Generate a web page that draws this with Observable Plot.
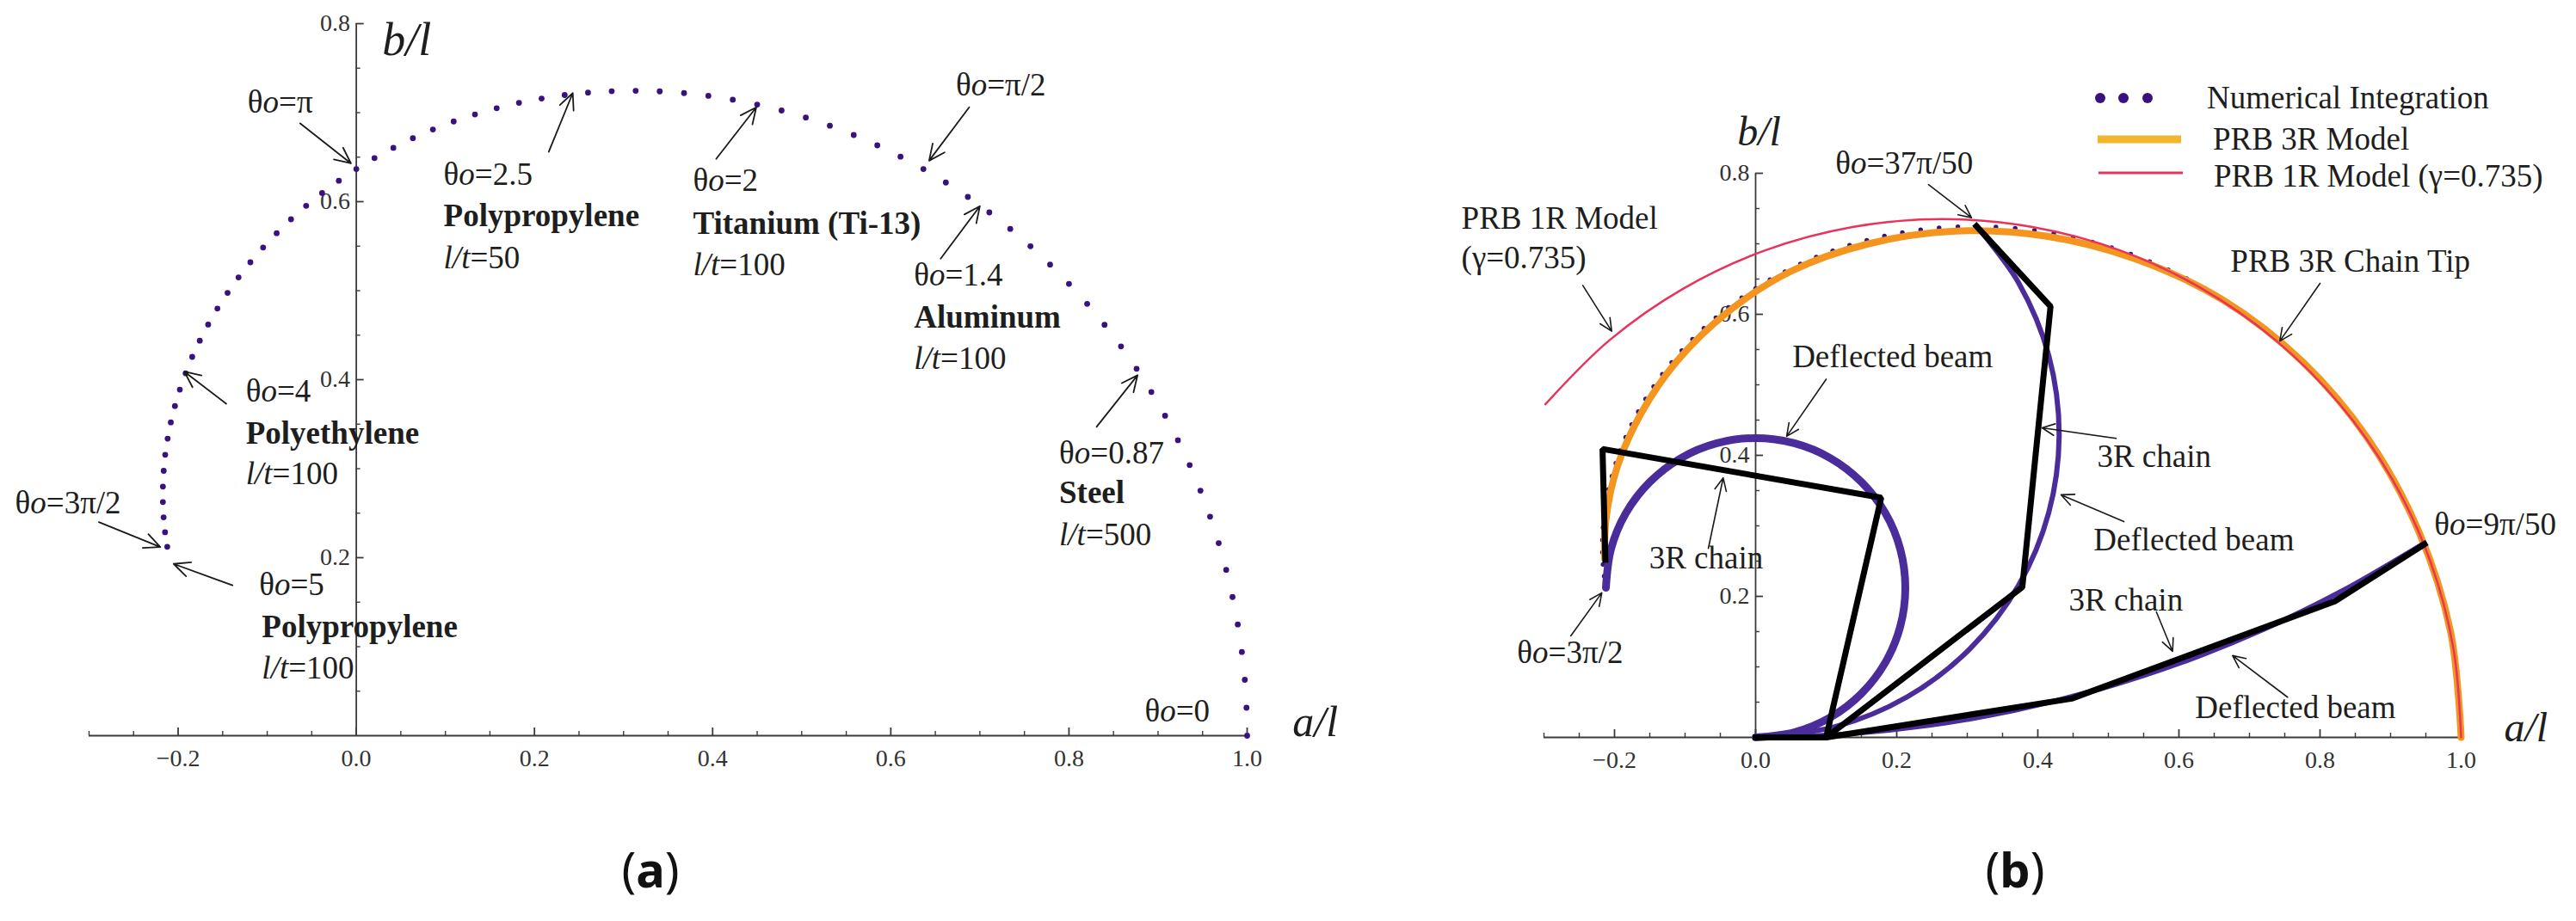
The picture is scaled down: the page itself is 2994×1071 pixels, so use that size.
<!DOCTYPE html>
<html>
<head>
<meta charset="utf-8">
<script src="https://cdn.jsdelivr.net/npm/d3@7"></script>
<script src="https://cdn.jsdelivr.net/npm/@observablehq/plot@0.6"></script>
<style>
  html, body { margin: 0; padding: 0; background: #fff; }
  body { width: 2994px; height: 1071px; position: relative; overflow: hidden; font-family: "Liberation Serif", serif; }
  .panel { position: absolute; top: 0; }
  .plabel { position: absolute; top: 982px; width: 200px; text-align: center; font-family: "Noto Sans", sans-serif; font-size: 56px; line-height: 1; color: #111; }
  .plabel b { font-weight: 700; }
  #legend { position: absolute; left: 2420px; top: 90px; }
</style>
</head>
<body>
<div id="panelA" class="panel" style="left:0px;width:1600px"></div>
<div id="panelB" class="panel" style="left:1600px;width:1394px"></div>
<div class="plabel" style="left:656px">(<b>a</b>)</div>
<div class="plabel" style="left:2242px">(<b>b</b>)</div>
<svg id="legend" width="560" height="140"></svg>
<script>
// ---------- data ----------
// Numerical integration: tip positions (a/l, b/l), dots
const integrationX = [1.0000,0.9993,0.9974,0.9941,0.9895,0.9836,0.9765,0.9681,0.9584,0.9476,0.9355,0.9223,0.9079,0.8925,0.8759,0.8584,0.8399,0.8204,0.8000,0.7788,0.7568,0.7341,0.7106,0.6865,0.6618,0.6366,0.6109,0.5848,0.5584,0.5316,0.5046,0.4774,0.4500,0.4226,0.3952,0.3679,0.3406,0.3136,0.2867,0.2601,0.2339,0.2080,0.1826,0.1576,0.1332,0.1093,0.0860,0.0635,0.0416,0.0204,0.0000,-0.0196,-0.0384,-0.0563,-0.0733,-0.0894,-0.1046,-0.1189,-0.1322,-0.1445,-0.1559,-0.1663,-0.1757,-0.1842,-0.1916,-0.1981,-0.2036,-0.2082,-0.2118,-0.2145,-0.2162,-0.2171,-0.2171,-0.2163,-0.2147,-0.2122];
const integrationY = [0.0000,0.0314,0.0628,0.0940,0.1250,0.1558,0.1863,0.2164,0.2461,0.2753,0.3040,0.3320,0.3595,0.3862,0.4122,0.4374,0.4617,0.4852,0.5077,0.5293,0.5499,0.5694,0.5879,0.6053,0.6215,0.6366,0.6506,0.6633,0.6749,0.6853,0.6945,0.7024,0.7091,0.7146,0.7189,0.7220,0.7239,0.7246,0.7241,0.7225,0.7198,0.7159,0.7110,0.7050,0.6980,0.6901,0.6811,0.6713,0.6605,0.6490,0.6366,0.6235,0.6097,0.5953,0.5802,0.5646,0.5485,0.5319,0.5149,0.4975,0.4799,0.4619,0.4438,0.4256,0.4072,0.3888,0.3704,0.3520,0.3337,0.3156,0.2976,0.2799,0.2625,0.2453,0.2286,0.2122];

// PRB 3R chain tip path (orange)
const prb3rTip = [[1.0,0],[0.985,0.150],[0.940,0.292],[0.869,0.422],[0.775,0.533],[0.663,0.620],[0.537,0.679],[0.411,0.711],[0.283,0.718],[0.160,0.700],[0.050,0.661],[-0.040,0.603],[-0.112,0.533],[-0.162,0.460],[-0.196,0.384],[-0.212,0.310],[-0.214,0.254]];
// PRB 1R model (red)
const prb1r = [[-0.298,0.4725],[-0.2075,0.563],[-0.1025,0.6365],[0.0136,0.6907],[0.1374,0.7238],[0.265,0.735],[0.3926,0.7238],[0.5164,0.6907],[0.6325,0.6365],[0.7375,0.563],[0.828,0.4725],[0.9015,0.3675],[0.9557,0.2514],[0.9888,0.1276],[1.0,0]];
// Deflected beams (purple)
const beam1 = [[0,0],[0.0549,0.0072],[0.1061,0.0284],[0.15,0.0622],[0.1838,0.1061],[0.205,0.1573],[0.2122,0.2122],[0.205,0.2671],[0.1838,0.3183],[0.15,0.3622],[0.1061,0.396],[0.0549,0.4172],[0,0.4244],[-0.0549,0.4172],[-0.1061,0.396],[-0.15,0.3622],[-0.1838,0.3183],[-0.205,0.2671],[-0.2122,0.2122]];
const beam2 = [[0,0],[0.1113,0.0147],[0.2151,0.0576],[0.3042,0.126],[0.3725,0.2151],[0.4155,0.3188],[0.4302,0.4302],[0.4155,0.5415],[0.3725,0.6452],[0.3136,0.7246]];
const beam3 = [[0,0],[0.1234,0.0043],[0.2461,0.0172],[0.3677,0.0386],[0.4874,0.0685],[0.6048,0.1067],[0.7193,0.1529],[0.8302,0.207],[0.9476,0.2753]];
// 3R chains (black)
const chain1 = [[0,0],[0.1,0],[0.178,0.340],[-0.217,0.409],[-0.213,0.252]];
const chain2 = [[0,0],[0.1,0],[0.378,0.213],[0.418,0.611],[0.313,0.725]];
const chain3 = [[0,0],[0.1,0],[0.448,0.055],[0.821,0.193],[0.948,0.274]];

// Axes ticks
const xMajor = [-0.2, 0, 0.2, 0.4, 0.6, 0.8, 1.0];
const xLabels = ["\u22120.2", "0.0", "0.2", "0.4", "0.6", "0.8", "1.0"];
const xMinor = [-0.3,-0.25,-0.15,-0.1,-0.05,0.05,0.1,0.15,0.25,0.3,0.35,0.45,0.5,0.55,0.65,0.7,0.75,0.85,0.9,0.95];
const yMajor = [0.2, 0.4, 0.6, 0.8];
const yLabels = ["0.2", "0.4", "0.6", "0.8"];
const yMinor = [0.05,0.1,0.15,0.25,0.3,0.35,0.45,0.5,0.55,0.65,0.7,0.75];

// Panel (a) annotations
const thetaLabelsA = [
  {x:-0.122, y:0.700, t:"θo=π"}, {x:0.098, y:0.619, t:"θo=2.5"}, {x:0.378, y:0.612, t:"θo=2"},
  {x:0.673, y:0.719, t:"θo=π/2"}, {x:0.626, y:0.506, t:"θo=1.4"}, {x:0.789, y:0.306, t:"θo=0.87"},
  {x:0.885, y:0.016, t:"θo=0"}, {x:-0.124, y:0.375, t:"θo=4"}, {x:-0.383, y:0.250, t:"θo=3π/2"},
  {x:-0.109, y:0.158, t:"θo=5"}
];
const materialLabelsA = [
  {x:0.098, y:0.572, t:"Polypropylene"}, {x:0.378, y:0.564, t:"Titanium (Ti-13)"}, {x:0.626, y:0.458, t:"Aluminum"},
  {x:0.789, y:0.261, t:"Steel"}, {x:-0.124, y:0.328, t:"Polyethylene"}, {x:-0.106, y:0.111, t:"Polypropylene"}
];
const ratioLabelsA = [
  {x:0.098, y:0.525, t:"l/t=50"}, {x:0.378, y:0.517, t:"l/t=100"}, {x:0.626, y:0.412, t:"l/t=100"},
  {x:0.789, y:0.214, t:"l/t=500"}, {x:-0.124, y:0.283, t:"l/t=100"}, {x:-0.106, y:0.064, t:"l/t=100"}
];
const arrowsA = [
  {x1:-0.063, y1:0.688, x2:-0.006, y2:0.643}, {x1:0.216, y1:0.656, x2:0.243, y2:0.722},
  {x1:0.404, y1:0.648, x2:0.449, y2:0.706}, {x1:0.688, y1:0.706, x2:0.643, y2:0.646},
  {x1:0.656, y1:0.536, x2:0.700, y2:0.595}, {x1:0.831, y1:0.347, x2:0.877, y2:0.405},
  {x1:-0.146, y1:0.373, x2:-0.193, y2:0.409}, {x1:-0.289, y1:0.240, x2:-0.220, y2:0.212},
  {x1:-0.139, y1:0.169, x2:-0.205, y2:0.193}
];
// Panel (b) annotations
const labelsB = [
  {x:0.113, y:0.800, t:"θo=37π/50"}, {x:-0.417, y:0.721, t:"PRB 1R Model"}, {x:-0.417, y:0.665, t:"(γ=0.735)"},
  {x:0.052, y:0.525, t:"Deflected beam"}, {x:-0.151, y:0.240, t:"3R chain"}, {x:-0.338, y:0.105, t:"θo=3π/2"},
  {x:0.673, y:0.660, t:"PRB 3R Chain Tip"}, {x:0.484, y:0.383, t:"3R chain"}, {x:0.479, y:0.265, t:"Deflected beam"},
  {x:0.962, y:0.287, t:"θo=9π/50"}, {x:0.444, y:0.180, t:"3R chain"}, {x:0.623, y:0.027, t:"Deflected beam"}
];
const arrowsB = [
  {x1:0.245, y1:0.784, x2:0.306, y2:0.737}, {x1:-0.245, y1:0.641, x2:-0.204, y2:0.576},
  {x1:0.100, y1:0.508, x2:0.044, y2:0.427}, {x1:-0.067, y1:0.268, x2:-0.046, y2:0.368},
  {x1:-0.262, y1:0.144, x2:-0.218, y2:0.205}, {x1:0.800, y1:0.644, x2:0.743, y2:0.562},
  {x1:0.511, y1:0.424, x2:0.406, y2:0.439}, {x1:0.522, y1:0.306, x2:0.433, y2:0.344},
  {x1:0.568, y1:0.178, x2:0.591, y2:0.122}, {x1:0.754, y1:0.057, x2:0.676, y2:0.116}
];
const legendLabels = ["Numerical Integration", "PRB 3R Model", "PRB 1R Model (γ=0.735)"];

// ---------- styles ----------
const C = { dots: "#38137f", orange: "#f3951f", orangeLegend: "#f2b52e", red: "#e8345c", beam: "#4a2d9a", chain: "#000", axis: "#3a3a3a", text: "#1e1e1e" };
const FONT = "Liberation Serif";

function axisMarks(ppu) {
  const maj = 9 / ppu, mnr = 5 / ppu;
  const s = { stroke: C.axis, strokeWidth: 1.8 };
  return [
    Plot.ruleY([0], { x1: -0.3, x2: 1.0, ...s }),
    Plot.ruleX([0], { y1: 0, y2: 0.8, ...s }),
    Plot.ruleX(xMajor, { x: d => d, y1: 0, y2: maj, ...s }),
    Plot.ruleX(xMinor, { x: d => d, y1: 0, y2: mnr, ...s, strokeWidth: 1.4 }),
    Plot.ruleY(yMajor, { y: d => d, x1: 0, x2: maj, ...s }),
    Plot.ruleY(yMinor, { y: d => d, x1: 0, x2: mnr, ...s, strokeWidth: 1.4 }),
    Plot.text(xMajor, { x: d => d, y: 0, text: (d, i) => xLabels[i], dy: 27, fontSize: 28, fill: "#333" }),
    Plot.text(yMajor, { x: 0, y: d => d, text: (d, i) => yLabels[i], dx: -7, textAnchor: "end", fontSize: 28, fill: "#333" })
  ];
}
const ann = (data, extra) => Plot.text(data, { x: "x", y: "y", text: "t", textAnchor: "start", lineAnchor: "bottom", fontSize: 37, fill: C.text, ...extra });

// ---------- panel (a) ----------
const plotA = Plot.plot({
  width: 1600, height: 915,
  marginLeft: 103, marginRight: 151, marginTop: 27, marginBottom: 60,
  x: { domain: [-0.3, 1.0], axis: null },
  y: { domain: [0, 0.8], axis: null },
  style: { fontFamily: FONT, background: "transparent", overflow: "visible" },
  marks: [
    ...axisMarks(1035),
    Plot.dot(integrationX, { x: d => d, y: (d, i) => integrationY[i], r: 3.4, fill: C.dots }),
    ann(thetaLabelsA),
    ann(materialLabelsA, { fontWeight: "bold" }),
    ann(ratioLabelsA),
    Plot.arrow(arrowsA, { x1: "x1", y1: "y1", x2: "x2", y2: "y2", stroke: "#1a1a1a", strokeWidth: 1.8, headLength: 17, headAngle: 50 }),
    Plot.text(["b/l"], { x: 0.029, y: 0.765, text: d => d, textAnchor: "start", lineAnchor: "bottom", fontSize: 54, fontStyle: "italic", fill: C.text }),
    Plot.text(["a/l"], { x: 1.051, y: 0, text: d => d, textAnchor: "start", lineAnchor: "bottom", fontSize: 50, fontStyle: "italic", fill: C.text })
  ]
});

// ---------- panel (b) ----------
const lineXY = { x: d => d[0], y: d => d[1] };
const plotB = Plot.plot({
  width: 1394, height: 917,
  marginLeft: 194, marginRight: 134, marginTop: 201, marginBottom: 60,
  x: { domain: [-0.3, 1.0], axis: null },
  y: { domain: [0, 0.8], axis: null },
  style: { fontFamily: FONT, background: "transparent", overflow: "visible" },
  marks: [
    ...axisMarks(820),
    Plot.dot(integrationX, { x: d => d, y: (d, i) => integrationY[i], r: 2.7, fill: C.dots }),
    Plot.line(prb3rTip, { ...lineXY, stroke: C.orange, strokeWidth: 8, curve: "catmull-rom" }),
    Plot.line(prb1r, { ...lineXY, stroke: C.red, strokeWidth: 2.5, curve: "catmull-rom" }),
    Plot.line(beam1, { ...lineXY, stroke: C.beam, strokeWidth: 9, curve: "catmull-rom" }),
    Plot.line(beam2, { ...lineXY, stroke: C.beam, strokeWidth: 6, curve: "catmull-rom" }),
    Plot.line(beam3, { ...lineXY, stroke: C.beam, strokeWidth: 6, curve: "catmull-rom" }),
    Plot.line(chain1, { ...lineXY, stroke: C.chain, strokeWidth: 7, strokeLinejoin: "miter", strokeLinecap: "square" }),
    Plot.line(chain2, { ...lineXY, stroke: C.chain, strokeWidth: 7, strokeLinejoin: "miter", strokeLinecap: "square" }),
    Plot.line(chain3, { ...lineXY, stroke: C.chain, strokeWidth: 7, strokeLinejoin: "miter", strokeLinecap: "square" }),
    ann(labelsB),
    Plot.arrow(arrowsB, { x1: "x1", y1: "y1", x2: "x2", y2: "y2", stroke: "#1a1a1a", strokeWidth: 1.6, headLength: 15, headAngle: 50 }),
    Plot.text(["b/l"], { x: -0.026, y: 0.840, text: d => d, textAnchor: "start", lineAnchor: "bottom", fontSize: 48, fontStyle: "italic", fill: C.text }),
    Plot.text(["a/l"], { x: 1.061, y: -0.006, text: d => d, textAnchor: "start", lineAnchor: "bottom", fontSize: 48, fontStyle: "italic", fill: C.text })
  ]
});

// italic "o" in θo and italic "l/t"
const NS = "http://www.w3.org/2000/svg";
function italicize(svg) {
  svg.querySelectorAll("text").forEach(t => {
    const s = t.textContent;
    if (t.querySelector("tspan")) return;
    if (s.startsWith("θo")) {
      t.textContent = "θ";
      const ts = document.createElementNS(NS, "tspan");
      ts.setAttribute("font-style", "italic");
      ts.textContent = "o";
      t.appendChild(ts);
      t.appendChild(document.createTextNode(s.slice(2)));
    } else if (s.startsWith("l/t")) {
      t.textContent = "";
      const ts = document.createElementNS(NS, "tspan");
      ts.setAttribute("font-style", "italic");
      ts.textContent = "l/t";
      t.appendChild(ts);
      t.appendChild(document.createTextNode(s.slice(3)));
    }
  });
}
italicize(plotA);
italicize(plotB);
document.getElementById("panelA").appendChild(plotA);
document.getElementById("panelB").appendChild(plotB);

// ---------- legend ----------
const lg = d3.select("#legend").style("font-family", FONT);
lg.selectAll("circle.d").data([21, 48, 76]).join("circle").attr("class", "d")
  .attr("cx", d => d).attr("cy", 24).attr("r", 6).attr("fill", C.dots);
lg.append("line").attr("x1", 18).attr("x2", 115).attr("y1", 72).attr("y2", 72)
  .attr("stroke", C.orangeLegend).attr("stroke-width", 9);
lg.append("line").attr("x1", 19).attr("x2", 117).attr("y1", 111).attr("y2", 111)
  .attr("stroke", C.red).attr("stroke-width", 3);
lg.selectAll("text").data(legendLabels).join("text")
  .attr("x", (d, i) => [145, 152, 153][i]).attr("y", (d, i) => [36, 84, 127][i])
  .attr("font-size", 37).attr("fill", C.text).text(d => d);
</script>
</body>
</html>
